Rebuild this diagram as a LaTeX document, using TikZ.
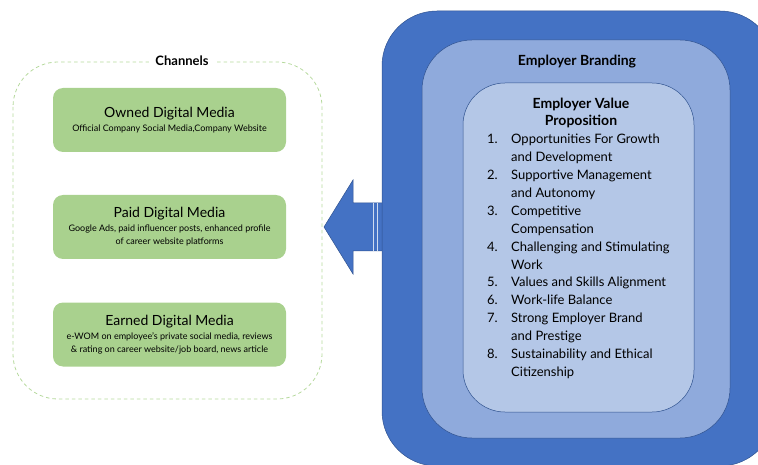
\documentclass[tikz,border=0pt]{standalone}
\usepackage{fontspec}
\setmainfont{Lato}
\definecolor{brandouter}{HTML}{4472C4}
\definecolor{brandmid}{HTML}{8FAADC}
\definecolor{brandinner}{HTML}{B4C7E7}
\definecolor{brandline}{HTML}{2F528F}
\definecolor{mediagreen}{HTML}{A9D18E}
\definecolor{dashgreen}{HTML}{B5D99C}
\tikzset{
  mediabox/.style={fill=mediagreen, rounded corners=10pt, minimum width=233pt, minimum height=64pt, align=center, inner sep=0pt, font=\fontsize{9}{13}\selectfont},
  layer/.style={draw=brandline, line width=0.5pt},
}
\newcommand{\mediatitle}[1]{{\fontsize{14}{14}\selectfont #1}}

\begin{document}
\begin{tikzpicture}[x=1pt,y=-1pt]
\useasboundingbox (0,0) rectangle (758,465);
\clip (0,0) rectangle (758,465);
% channels
\draw[dashgreen, dash pattern=on 3.5pt off 3pt, line width=0.8pt, rounded corners=45pt] (13,62) rectangle (322,399);
\node[fill=white, font=\bfseries\fontsize{13}{15}\selectfont, inner xsep=6pt, inner ysep=2pt] (channels) at (182,60.5) {Channels};
\node[mediabox] (owned) at (169.5,120) {\mediatitle{Owned Digital Media}\\[1pt]Official Company Social Media,Company Website};
\node[mediabox] (paid) at (169.5,227) {\mediatitle{Paid Digital Media}\\[1pt]Google Ads, paid influencer posts, enhanced profile\\of career website platforms};
\node[mediabox] (earned) at (169.5,334.5) {\mediatitle{Earned Digital Media}\\[1pt]e-WOM on employee's private social media, reviews\\\& rating on career website/job board, news article};
% arrow
\draw[layer, fill=brandouter] (324,227) -- (353,180) -- (353,203) -- (392,203) -- (392,251) -- (353,251) -- (353,274) -- cycle;
\draw[white!75!brandouter, line width=0.6pt] (373,203) -- (373,251) (377,203) -- (377,251);
% employer branding layers
\draw[layer, fill=brandouter, rounded corners=55pt] (382,11) rectangle (775,466);
\draw[layer, fill=brandmid, rounded corners=50pt] (422,40) rectangle (730,438);
\draw[layer, fill=brandinner, rounded corners=42pt] (463,83) rectangle (694,412);
\node[font=\bfseries\fontsize{14}{17}\selectfont] (branding) at (577,62) {Employer Branding};
\node[font=\bfseries\fontsize{14}{17}\selectfont, align=center] (evp) at (581,112.5) {Employer Value\\Proposition};
\node[anchor=north west, inner sep=0pt, font=\fontsize{13}{17.9}\selectfont] (evplist) at (487,131) {%
\begin{tabular}{@{}p{24pt}@{}l@{}}
1. & Opportunities For Growth\\
   & and Development\\
2. & Supportive Management\\
   & and Autonomy\\
3. & Competitive\\
   & Compensation\\
4. & Challenging and Stimulating\\
   & Work\\
5. & Values and Skills Alignment\\
6. & Work-life Balance\\
7. & Strong Employer Brand\\
   & and Prestige\\
8. & Sustainability and Ethical\\
   & Citizenship
\end{tabular}};
\end{tikzpicture}
\end{document}
